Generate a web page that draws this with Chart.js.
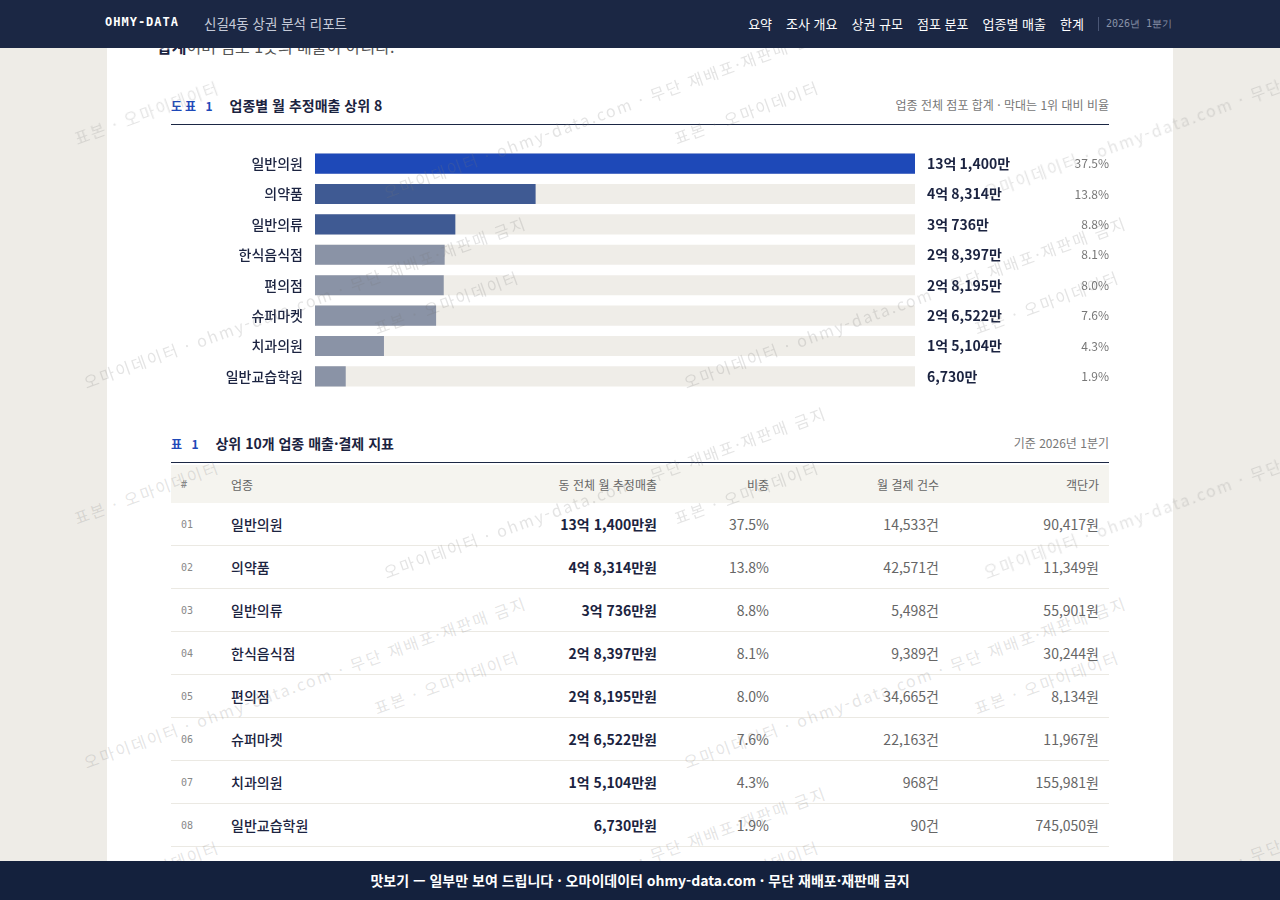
<!DOCTYPE html>
<html lang="ko">
<head>
<meta charset="utf-8">
<script src="https://cdn.jsdelivr.net/npm/chart.js@4/dist/chart.umd.min.js"></script>
<style>
  body { margin:0; background:#eeece7; font-family:"Noto Sans CJK KR","Noto Sans",sans-serif; color:#1b2340; overflow:hidden; }
  .top { position:fixed; top:0; left:0; right:0; height:48px; background:#1b2744; z-index:10; color:#fff; }
  .top .brand { position:absolute; left:105px; top:15px; font-family:"DejaVu Sans Mono",monospace; font-weight:bold; font-size:12px; letter-spacing:1px; }
  .top .title { position:absolute; left:204px; top:13px; font-size:13.5px; color:#c5cad8; }
  .top .nav { position:absolute; right:108px; top:14px; font-size:13px; display:flex; gap:14px; align-items:center; }
  .top .nav .q { border-left:1px solid #4a5675; padding-left:7px; font-size:10px; color:#8a93a8; font-family:"DejaVu Sans Mono",monospace; }
  .sheet { position:absolute; left:107px; top:0; width:1066px; height:900px; background:#fff; }
  .lead { position:absolute; left:50px; top:34px; font-size:16px; color:#555; }
  .cap { position:absolute; left:64px; width:938px; font-size:14px; font-weight:bold; border-bottom:1px solid #1b2744; }
  .cap .no { color:#1e49b8; margin-right:14px; font-size:12px; letter-spacing:3px; }
  .cap .r { position:absolute; right:0; top:1px; font-weight:normal; font-size:12px; color:#777; }
  #chartBox { position:absolute; left:64px; top:136px; width:938px; height:268px; }
  table { position:absolute; left:64px; top:465px; width:938px; border-collapse:collapse; font-size:14px; table-layout:fixed; }
  th { background:#f5f4ef; color:#666; font-weight:normal; font-size:12px; height:38px; text-align:right; padding:0 10px; }
  td { height:42px; border-bottom:1px solid #ebe9e3; text-align:right; padding:0 10px; color:#666; }
  td.n, th.n { text-align:left; font-family:"DejaVu Sans Mono",monospace; font-size:10px; color:#888; }
  td.nm, th.nm { text-align:left; }
  td.nm { color:#1b2340; font-weight:500; }
  td.s { color:#1b2340; font-weight:bold; }
  .foot { position:fixed; left:0; right:0; bottom:0; height:39px; background:#14213d; color:#fff; text-align:center; line-height:39px; font-weight:bold; font-size:14px; z-index:10; }
  .wm { position:absolute; color:rgba(120,120,120,0.2); font-size:16px; transform:rotate(-20deg); white-space:nowrap; pointer-events:none; z-index:5; letter-spacing:2px; }
</style>
</head>
<body>
<div class="top">
  <div class="brand">OHMY-DATA</div>
  <div class="title">신길4동 상권 분석 리포트</div>
  <div class="nav"><span>요약</span><span>조사 개요</span><span>상권 규모</span><span>점포 분포</span><span>업종별 매출</span><span>한계</span><span class="q">2026년 1분기</span></div>
</div>
<div class="sheet">
  <div class="lead"><b style="color:#1b2340">합계</b>이며 점포 1곳의 매출이 아니다.</div>
  <div class="cap" style="top:95px;height:29px"><span class="no">도표 1</span>업종별 월 추정매출 상위 8<span class="r">업종 전체 점포 합계 · 막대는 1위 대비 비율</span></div>
  <div id="chartBox"><canvas id="c" width="938" height="268"></canvas></div>
  <div class="cap" style="top:433px;height:29px"><span class="no">표 1</span>상위 10개 업종 매출·결제 지표<span class="r">기준 2026년 1분기</span></div>
  <table id="tbl">
    <colgroup><col style="width:50px"><col style="width:200px"><col style="width:246px"><col style="width:112px"><col style="width:170px"><col style="width:160px"></colgroup>
    <thead><tr><th class="n">#</th><th class="nm">업종</th><th>동 전체 월 추정매출</th><th>비중</th><th>월 결제 건수</th><th>객단가</th></tr></thead>
    <tbody></tbody>
  </table>
</div>
<div class="foot">맛보기 — 일부만 보여 드립니다 · 오마이데이터 ohmy-data.com · 무단 재배포·재판매 금지</div>
<script>
const categories = ['일반의원','의약품','일반의류','한식음식점','편의점','슈퍼마켓','치과의원','일반교습학원'];
const salesMan = [131400, 48314, 30736, 28397, 28195, 26522, 15104, 6730]; // 만원
const salesLabels = ['13억 1,400만','4억 8,314만','3억 736만','2억 8,397만','2억 8,195만','2억 6,522만','1억 5,104만','6,730만'];
const shares = ['37.5%','13.8%','8.8%','8.1%','8.0%','7.6%','4.3%','1.9%'];
const txCounts = ['14,533건','42,571건','5,498건','9,389건','34,665건','22,163건','968건','90건'];
const perTx = ['90,417원','11,349원','55,901원','30,244원','8,134원','11,967원','155,981원','745,050원'];
const barColors = ['#1e49b8','#3f5a93','#3f5a93','#8a93a6','#8a93a6','#8a93a6','#8a93a6','#8a93a6'];

const tbody = document.querySelector('#tbl tbody');
categories.forEach((c, i) => {
  const tr = document.createElement('tr');
  tr.innerHTML = `<td class="n">0${i+1}</td><td class="nm">${c}</td><td class="s">${salesLabels[i]}원</td><td>${shares[i]}</td><td>${txCounts[i]}</td><td>${perTx[i]}</td>`;
  tbody.appendChild(tr);
});
const extra = document.createElement('tr');
extra.innerHTML = '<td class="n">09</td><td class="nm">부동산중개</td><td class="s">만원</td><td></td><td>건</td><td>원</td>';
tbody.appendChild(extra);

const maxV = Math.max(...salesMan);
const labelPlugin = {
  id: 'vals',
  afterDatasetsDraw(chart) {
    const ctx = chart.ctx, y = chart.scales.y, x = chart.scales.x;
    ctx.save();
    ctx.textBaseline = 'middle';
    categories.forEach((c, i) => {
      const py = y.getPixelForValue(i);
      ctx.font = 'bold 14px "Noto Sans CJK KR"';
      ctx.fillStyle = '#1b2340';
      ctx.textAlign = 'left';
      ctx.fillText(salesLabels[i], x.right + 12, py);
      ctx.font = '12px "Noto Sans CJK KR"';
      ctx.fillStyle = '#777';
      ctx.textAlign = 'right';
      ctx.fillText(shares[i], chart.width, py);
    });
    ctx.restore();
  }
};

new Chart(document.getElementById('c'), {
  type: 'bar',
  data: {
    labels: categories,
    datasets: [
      { data: salesMan, backgroundColor: barColors, barPercentage: 0.66, categoryPercentage: 1, grouped: false, order: 0 },
      { data: categories.map(() => maxV), backgroundColor: '#efede8', barPercentage: 0.66, categoryPercentage: 1, grouped: false, order: 1 }
    ]
  },
  options: {
    indexAxis: 'y',
    responsive: false,
    animation: false,
    layout: { padding: { right: 194, top: 0, bottom: 0, left: 0 } },
    plugins: { legend: { display: false }, tooltip: { enabled: false } },
    scales: {
      x: { display: false, min: 0, max: maxV },
      y: {
        grid: { display: false }, border: { display: false },
        afterFit(s) { s.width = 144; },
        ticks: { color: '#1b2340', padding: 4, font: { size: 14, family: 'Noto Sans CJK KR', weight: '500' } }
      }
    }
  },
  plugins: [labelPlugin]
});

// watermarks
const wmTexts = ['표본 · 오마이데이터', '오마이데이터 · ohmy-data.com · 무단 재배포·재판매 금지'];
for (let r = 0; r < 5; r++) {
  for (let k = 0; k < 4; k++) {
    const d = document.createElement('div');
    d.className = 'wm';
    d.textContent = wmTexts[(r + k) % 2 === 0 ? 0 : 1];
    d.style.left = (70 + k * 300) + 'px';
    d.style.top = (100 + r * 190) + 'px';
    document.body.appendChild(d);
  }
}
</script>
</body>
</html>
